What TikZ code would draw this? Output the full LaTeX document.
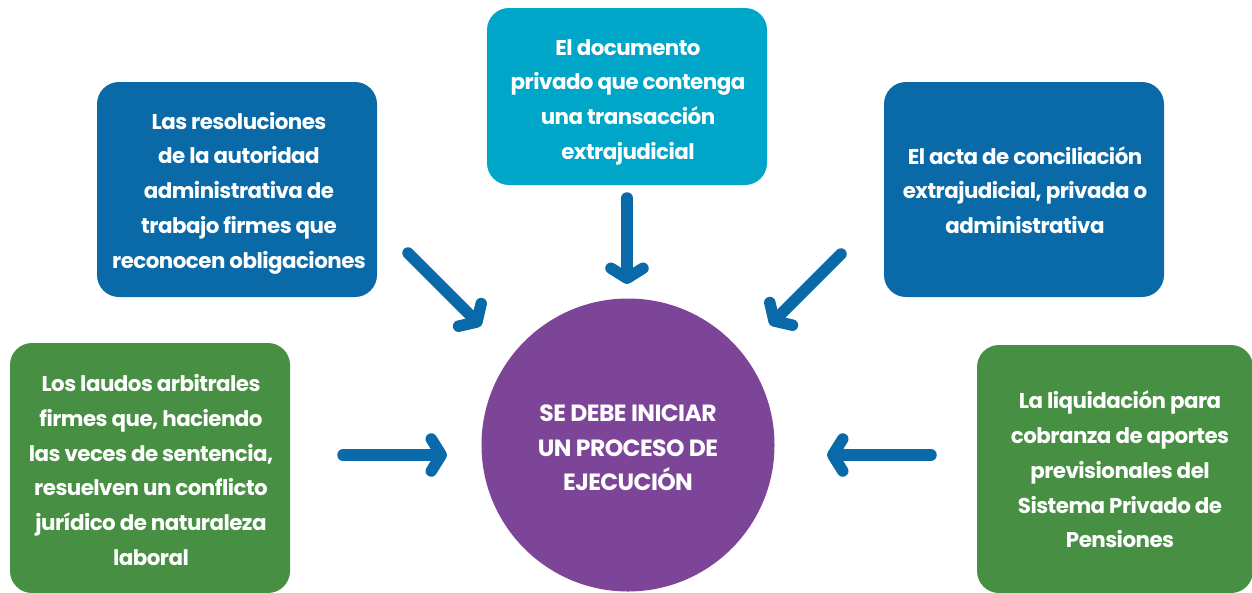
\documentclass[tikz,border=0pt]{standalone}
\usepackage{fontspec}
\setmainfont{Poppins}[LetterSpace=-2.5]
\usetikzlibrary{arrows.meta}
\definecolor{dblue}{HTML}{0A6AA8}
\definecolor{cyanb}{HTML}{00A6C7}
\definecolor{gbox}{HTML}{478F43}
\definecolor{purp}{HTML}{7D4598}
\definecolor{arr}{HTML}{0A69A8}
\tikzset{
  card/.style={rounded corners=22pt, draw=none},
  ctext/.style={text=white, font=\bfseries\fontsize{21.4}{34.7}\selectfont, align=center},
  circtext/.style={text=white, font=\bfseries\fontsize{23.5}{34.5}\selectfont, align=center},
  flow/.style={draw=arr, line width=11.5pt, line cap=round, line join=round,
    -{Straight Barb[length=10pt, width=32pt, line cap=round, line join=round]}}
}
\begin{document}
\begin{tikzpicture}[x=1pt,y=-1pt]
\useasboundingbox (0,0) rectangle (1252,592);
\begin{scope}
\clip (0,0) rectangle (1252,592);
% boxes
\fill[card, dblue] (97,82) rectangle (377,297);
\fill[card, cyanb] (487,8) rectangle (767,185);
\fill[card, dblue] (884,82) rectangle (1164,297);
\fill[card, gbox] (10,343) rectangle (290,593);
\fill[card, gbox] (977,345) rectangle (1253,593);
\fill[purp] (628,445) circle (146.5);
\end{scope}
% texts
\node[ctext] (tl) at (239,193) {Las resoluciones\\de la autoridad\\administrativa de\\trabajo firmes que\\reconocen obligaciones};
\node[ctext] (tc) at (628,102) {El documento\\privado que contenga\\una transacción\\extrajudicial};
\node[ctext] (tr) at (1025,190) {El acta de conciliación\\extrajudicial, privada o\\administrativa};
\node[ctext] (bl) at (151,470) {Los laudos arbitrales\\firmes que, haciendo\\las veces de sentencia,\\resuelven un conflicto\\jurídico de naturaleza\\laboral};
\node[ctext] (br) at (1120,469.5) {La liquidación para\\cobranza de aportes\\previsionales del\\Sistema Privado de\\Pensiones};
\node[circtext] (c) at (628,448) {SE DEBE INICIAR\\UN PROCESO DE\\EJECUCIÓN};
% arrow coordinates
\coordinate (a1s) at (408,253); \coordinate (a1e) at (481,326);
\coordinate (a2s) at (627,198); \coordinate (a2e) at (627,284);
\coordinate (a3s) at (841,254); \coordinate (a3e) at (770,325);
\coordinate (a4s) at (343,455); \coordinate (a4e) at (447,455);
\coordinate (a5s) at (931,455); \coordinate (a5e) at (827,455);
\draw[flow] (a1s) -- (a1e);
\draw[flow] (a2s) -- (a2e);
\draw[flow] (a3s) -- (a3e);
\draw[flow] (a4s) -- (a4e);
\draw[flow] (a5s) -- (a5e);
\end{tikzpicture}
\end{document}
